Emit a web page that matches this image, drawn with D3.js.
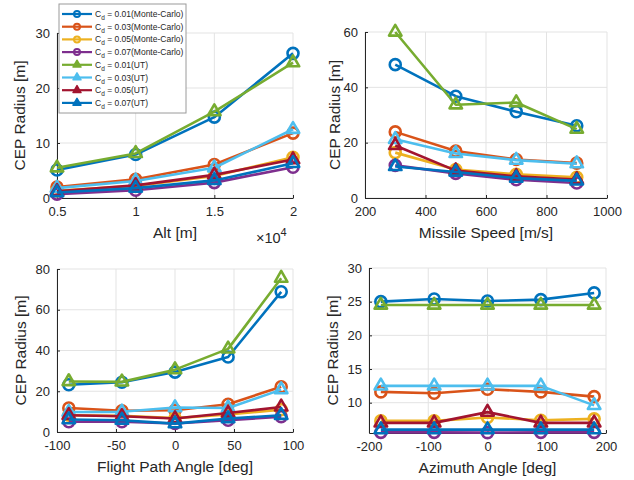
<!DOCTYPE html>
<html>
<head>
<meta charset="utf-8">
<script src="https://cdn.jsdelivr.net/npm/d3@7"></script>
<style>
body { margin: 0; background: #fff; }
svg { font-family: "Liberation Sans", Arial, sans-serif; }
.tick text { fill: #262626; font-size: 13px; }
.axistitle { fill: #262626; font-size: 15.5px; }
.legtext { fill: #262626; font-size: 8.5px; }
</style>
</head>
<body>
<svg width="634" height="480"></svg>
<script>
// series order: MC 0.01..0.07, then UT 0.01..0.07
var seriesCd = ['0.01', '0.03', '0.05', '0.07', '0.01', '0.03', '0.05', '0.07'];
var seriesMethod = ['Monte-Carlo', 'Monte-Carlo', 'Monte-Carlo', 'Monte-Carlo', 'UT', 'UT', 'UT', 'UT'];
var seriesColor = ['#0072BD', '#D95319', '#EDB120', '#7E2F8E', '#77AC30', '#4DBEEE', '#A2142F', '#0072BD'];

var altX = [5000, 10000, 15000, 20000];
var altY = [
  [5.1, 7.9, 14.7, 26.3],
  [2.0, 3.4, 6.1, 11.8],
  [1.3, 2.2, 4.0, 7.4],
  [0.7, 1.4, 2.8, 5.6],
  [5.5, 8.1, 15.7, 24.6],
  [1.8, 3.1, 5.5, 12.5],
  [1.2, 2.3, 4.2, 7.0],
  [1.0, 1.8, 3.2, 6.3]
];

var speedX = [300, 500, 700, 900];
var speedY = [
  [48.2, 36.8, 31.2, 26.1],
  [23.9, 17.0, 13.9, 12.6],
  [16.4, 10.3, 8.6, 7.5],
  [11.8, 8.9, 6.6, 5.4],
  [60.0, 33.7, 34.5, 24.9],
  [21.2, 16.1, 13.7, 12.4],
  [19.0, 9.9, 7.8, 6.7],
  [11.4, 9.4, 7.2, 6.2]
];

var fpaX = [-90, -45, 0, 45, 90];
var fpaY = [
  [23.2, 24.4, 29.4, 36.8, 68.8],
  [11.8, 10.4, 10.7, 13.6, 22.2],
  [8.2, 7.9, 6.8, 8.6, 11.0],
  [5.0, 5.0, 4.2, 5.8, 7.5],
  [24.8, 24.6, 30.6, 40.8, 75.5],
  [9.8, 9.9, 12.0, 11.8, 20.8],
  [8.2, 7.7, 6.6, 9.3, 12.3],
  [6.1, 5.8, 4.1, 6.6, 8.2]
];

var aziX = [-180, -90, 0, 90, 180];
var aziY = [
  [25.0, 25.4, 25.1, 25.3, 26.3],
  [11.6, 11.4, 12.0, 11.6, 10.9],
  [7.3, 7.3, 7.8, 7.4, 7.6],
  [5.6, 5.6, 5.55, 5.6, 5.6],
  [24.5, 24.5, 24.5, 24.5, 24.5],
  [12.5, 12.5, 12.5, 12.5, 9.6],
  [7.0, 7.0, 8.6, 7.0, 7.0],
  [6.0, 6.0, 6.0, 6.0, 6.0]
];

var svg = d3.select('svg');

var triPath = function(s)
{
  var h = s * 0.866;
  return 'M0,' + (-h * 2 / 3) + 'L' + (s / 2) + ',' + (h / 3) + 'L' + (-s / 2) + ',' + (h / 3) + 'Z';
}

var drawPanel = function(p)
{
  var g = svg.append('g').attr('transform', 'translate(' + p.left + ',' + p.top + ')');
  var w = p.right - p.left, h = p.bottom - p.top;
  var x = d3.scaleLinear().domain(p.xdom).range([0, w]);
  var y = d3.scaleLinear().domain(p.ydom).range([h, 0]);

  // grid
  g.append('g').selectAll('line').data(p.xticks).enter().append('line')
    .attr('x1', function(d) { return x(d); }).attr('x2', function(d) { return x(d); })
    .attr('y1', 0).attr('y2', h).attr('stroke', '#e3e3e3').attr('stroke-width', 1);
  g.append('g').selectAll('line').data(p.yticks).enter().append('line')
    .attr('y1', function(d) { return y(d); }).attr('y2', function(d) { return y(d); })
    .attr('x1', 0).attr('x2', w).attr('stroke', '#e3e3e3').attr('stroke-width', 1);

  var xAxis = g.append('g').attr('transform', 'translate(0,' + h + ')')
    .call(d3.axisBottom(x).tickValues(p.xticks).tickSize(-3).tickSizeOuter(0).tickPadding(9)
      .tickFormat(p.xfmt || function(d) { return d; }));
  var yAxis = g.append('g')
    .call(d3.axisLeft(y).tickValues(p.yticks).tickSize(-3).tickSizeOuter(0).tickPadding(7)
      .tickFormat(function(d) { return d; }));
  [xAxis, yAxis].forEach(function(a) {
    a.select('.domain').attr('stroke', '#262626').attr('stroke-width', 1);
    a.selectAll('.tick line').attr('stroke', '#262626');
  });

  var line = d3.line().x(function(d) { return x(d[0]); }).y(function(d) { return y(d[1]); });
  for (var i = 0; i < p.ys.length; i++)
  {
    var pts = p.xs.map(function(v, k) { return [v, p.ys[i][k]]; });
    var col = seriesColor[i];
    g.append('path').datum(pts).attr('d', line)
      .attr('fill', 'none').attr('stroke', col).attr('stroke-width', 2.6).attr('stroke-linejoin', 'round');
    if (i < 4)
    {
      g.append('g').selectAll('circle').data(pts).enter().append('circle')
        .attr('cx', function(d) { return x(d[0]); }).attr('cy', function(d) { return y(d[1]); })
        .attr('r', 5.5).attr('fill', 'none').attr('stroke', col).attr('stroke-width', 2.6);
    }
    else
    {
      g.append('g').selectAll('path').data(pts).enter().append('path')
        .attr('d', triPath(12.5))
        .attr('transform', function(d) { return 'translate(' + x(d[0]) + ',' + y(d[1]) + ')'; })
        .attr('fill', 'none').attr('stroke', col).attr('stroke-width', 2.6).attr('stroke-linejoin', 'round');
    }
  }

  svg.append('text').attr('class', 'axistitle')
    .attr('x', (p.left + p.right) / 2).attr('y', p.bottom + 40)
    .style('text-anchor', 'middle').text(p.xlabel);
  svg.append('text').attr('class', 'axistitle')
    .attr('transform', 'translate(' + p.ylabx + ',' + ((p.top + p.bottom) / 2) + ') rotate(-90)')
    .style('text-anchor', 'middle').text('CEP Radius [m]');
  return g;
}

drawPanel({ left: 57, right: 293, top: 33, bottom: 198, xdom: [5000, 20000], ydom: [0, 30],
  xticks: [5000, 10000, 15000, 20000], yticks: [0, 10, 20, 30], xs: altX, ys: altY,
  xfmt: function(d) { return d / 10000; }, xlabel: 'Alt [m]', ylabx: 25 });
drawPanel({ left: 365, right: 607, top: 32, bottom: 198, xdom: [200, 1000], ydom: [0, 60],
  xticks: [200, 400, 600, 800, 1000], yticks: [0, 20, 40, 60], xs: speedX, ys: speedY,
  xlabel: 'Missile Speed [m/s]', ylabx: 340 });
drawPanel({ left: 57, right: 293, top: 269, bottom: 432, xdom: [-100, 100], ydom: [0, 80],
  xticks: [-100, -50, 0, 50, 100], yticks: [0, 20, 40, 60, 80], xs: fpaX, ys: fpaY,
  xlabel: 'Flight Path Angle [deg]', ylabx: 26 });
drawPanel({ left: 369, right: 606, top: 268, bottom: 433, xdom: [-200, 200], ydom: [5.5, 30],
  xticks: [-200, -100, 0, 100, 200], yticks: [10, 15, 20, 25, 30], xs: aziX, ys: aziY,
  xlabel: 'Azimuth Angle [deg]', ylabx: 338 });

// x10^4 exponent label
var ex = svg.append('text').attr('x', 256).attr('y', 243).attr('fill', '#262626').style('font-size', '14.5px');
ex.append('tspan').text('\u00d710');
ex.append('tspan').attr('dy', -7).style('font-size', '11px').text('4');

// legend
var leg = svg.append('g').attr('transform', 'translate(59,4)');
leg.append('rect').attr('x', 0).attr('y', 0).attr('width', 127).attr('height', 109)
  .attr('fill', '#fff').attr('stroke', '#9a9a9a').attr('stroke-width', 1);
var rows = leg.selectAll('.legrow').data(seriesColor).enter().append('g')
  .attr('class', 'legrow')
  .attr('transform', function(d, i) { return 'translate(0,' + (10 + i * 12.7) + ')'; });
rows.append('line').attr('x1', 3).attr('x2', 33).attr('y1', 0).attr('y2', 0)
  .attr('stroke', function(d) { return d; }).attr('stroke-width', 2.2);
rows.each(function(d, i) {
  var r = d3.select(this);
  if (i < 4)
    r.append('circle').attr('cx', 18).attr('cy', 0).attr('r', 3).attr('fill', 'none')
      .attr('stroke', d).attr('stroke-width', 2);
  else
    r.append('path').attr('d', triPath(8)).attr('transform', 'translate(18,0)')
      .attr('fill', d).attr('stroke', d).attr('stroke-width', 1.5).attr('stroke-linejoin', 'round');
  var t = r.append('text').attr('class', 'legtext').attr('x', 36).attr('y', 3);
  t.append('tspan').text('C');
  t.append('tspan').attr('dy', 3).style('font-size', '6.5px').text('d');
  t.append('tspan').attr('dy', -3).text(' = ' + seriesCd[i] + '(' + seriesMethod[i] + ')');
});
</script>
</body>
</html>
